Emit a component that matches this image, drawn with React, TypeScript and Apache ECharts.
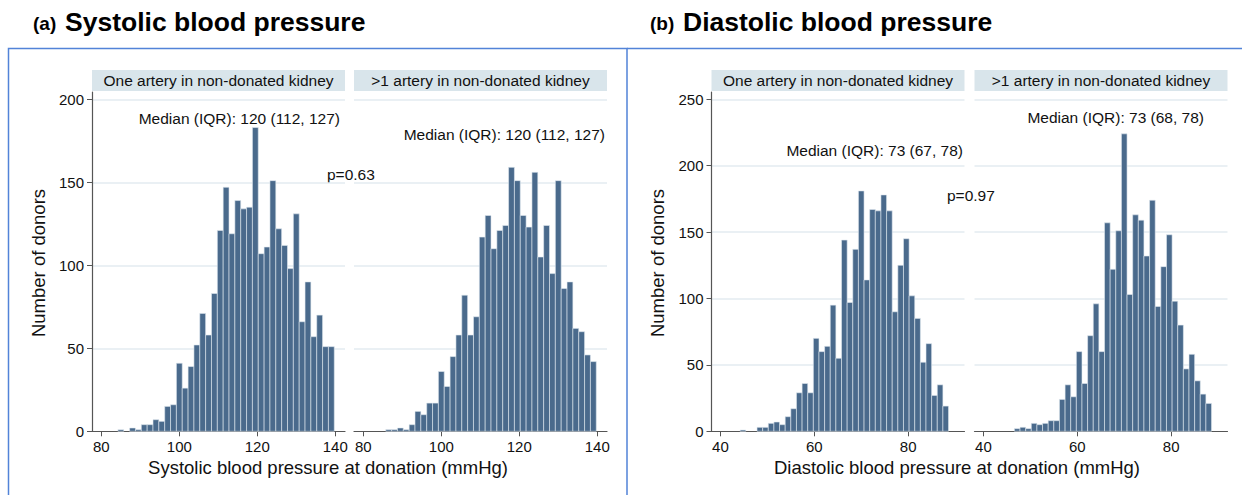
import React, { useEffect, useRef } from 'react';
import * as echarts from 'echarts';

// Histogram bin definitions
const sysBinStart = 84.25;
const sysBinWidth = 1.5;
const diaBinStart = 44.2;
const diaBinWidth = 1.2;

// Counts per bin (number of donors)
const sysOneArtery = [1, 0, 2, 1, 4, 4, 7, 6, 15, 16, 41, 26, 39, 52, 71, 58, 83, 121, 147, 119, 139, 134, 135, 183, 107, 111, 151, 122, 112, 98, 131, 66, 90, 57, 70, 51, 51];
const sysMultiArtery = [0, 1, 1, 2, 1, 4, 12, 10, 17, 17, 36, 27, 45, 58, 82, 58, 69, 117, 130, 110, 121, 124, 159, 151, 130, 123, 156, 105, 124, 95, 151, 86, 90, 62, 60, 46, 42];
const diaOneArtery = [1, 0, 0, 3, 3, 6, 7, 5, 11, 17, 29, 36, 29, 70, 60, 64, 95, 55, 144, 97, 137, 181, 114, 167, 166, 178, 166, 90, 125, 145, 102, 85, 52, 66, 27, 35, 19];
const diaMultiArtery = [0, 0, 2, 3, 2, 6, 5, 6, 8, 8, 24, 35, 26, 60, 36, 72, 96, 60, 157, 122, 151, 224, 103, 163, 159, 132, 174, 94, 124, 148, 98, 80, 47, 58, 38, 28, 21];

// Tick labels
const sysXTicks = [80, 100, 120, 140];
const diaXTicks = [40, 60, 80];
const sysYTicks = [0, 50, 100, 150, 200];
const diaYTicks = [0, 50, 100, 150, 200, 250];

// Texts
const stripLabels = ['One artery in non-donated kidney', '>1 artery in non-donated kidney'];
const medianLabels = [
  'Median (IQR): 120 (112, 127)',
  'Median (IQR): 120 (112, 127)',
  'Median (IQR): 73 (67, 78)',
  'Median (IQR): 73 (68, 78)',
];
const pValueLabels = ['p=0.63', 'p=0.97'];
const panelTags = ['(a)', '(b)'];
const panelTitles = ['Systolic blood pressure', 'Diastolic blood pressure'];
const xTitles = ['Systolic blood pressure at donation (mmHg)', 'Diastolic blood pressure at donation (mmHg)'];
const yTitle = 'Number of donors';

const FONT = '"Liberation Sans", Arial, Helvetica, sans-serif';
const BAR = '#4a6a8c';
const EDGE = 'rgba(225,233,240,0.85)';
const GRID = '#e3ebf0';
const AXIS = '#555555';
const STRIP = '#d9e5eb';
const FRAME = '#5283d8';

function toBins(start: number, width: number, counts: number[]) {
  return counts.map((c, i) => [start + i * width, start + (i + 1) * width, c]);
}

const App: React.FC = () => {
  const ref = useRef<HTMLDivElement>(null);

  useEffect(() => {
    if (!ref.current) return;
    const chart = echarts.init(ref.current, undefined, { renderer: 'svg' });

    const gridTop = 92;
    const gridH = 339.3;
    const panels = [
      { left: 92, width: 253, min: 77.6, max: 142.5, xt: sysXTicks, ymax: 204.4, yt: sysYTicks, showY: true, data: toBins(sysBinStart, sysBinWidth, sysOneArtery) },
      { left: 354, width: 253, min: 77.6, max: 142.5, xt: sysXTicks, ymax: 204.4, yt: sysYTicks, showY: false, data: toBins(sysBinStart, sysBinWidth, sysMultiArtery) },
      { left: 711.5, width: 253, min: 38.1, max: 92.0, xt: diaXTicks, ymax: 255.5, yt: diaYTicks, showY: true, data: toBins(diaBinStart, diaBinWidth, diaOneArtery) },
      { left: 974.5, width: 253, min: 38.1, max: 92.0, xt: diaXTicks, ymax: 255.5, yt: diaYTicks, showY: false, data: toBins(diaBinStart, diaBinWidth, diaMultiArtery) },
    ];

    const grid = panels.map((p) => ({ left: p.left, top: gridTop, width: p.width, height: gridH, containLabel: false }));
    const xAxis = panels.map((p, i) => ({
      type: 'value',
      gridIndex: i,
      min: p.min,
      max: p.max,
      axisLine: { show: true, lineStyle: { color: AXIS, width: 1.2 } },
      axisTick: { show: true, length: 5, customValues: p.xt, lineStyle: { color: AXIS } },
      axisLabel: { show: true, customValues: p.xt, fontSize: 15, color: '#111', fontFamily: FONT, margin: 8 },
      splitLine: { show: false },
    }));
    const yAxis = panels.map((p, i) => ({
      type: 'value',
      gridIndex: i,
      min: 0,
      max: p.ymax,
      interval: 50,
      axisLine: { show: p.showY, lineStyle: { color: AXIS, width: 1.2 } },
      axisTick: { show: p.showY, length: 5, customValues: p.yt, lineStyle: { color: AXIS } },
      axisLabel: { show: p.showY, customValues: p.yt, fontSize: 15, color: '#111', fontFamily: FONT, margin: 8 },
      splitLine: { show: true, showMinLine: false, lineStyle: { color: GRID, width: 1.5 } },
    }));

    const series = panels.map((p, i) => ({
      type: 'custom',
      xAxisIndex: i,
      yAxisIndex: i,
      encode: { x: [0, 1], y: 2 },
      renderItem: (params: any, api: any) => {
        const x0 = api.value(0);
        const x1 = api.value(1);
        const v = api.value(2);
        if (!v) return null;
        const a = api.coord([x0, v]);
        const b = api.coord([x1, 0]);
        return {
          type: 'rect',
          shape: { x: a[0], y: a[1], width: b[0] - a[0], height: b[1] - a[1] },
          style: { fill: BAR, stroke: EDGE, lineWidth: 0.7 },
        };
      },
      data: p.data,
    }));

    const txt = (x: number, y: number, text: string, size: number, align: string, opts: any = {}) => ({
      type: 'text',
      x,
      y,
      silent: true,
      ...opts,
      style: { text, fontSize: size, fontFamily: FONT, fill: '#111', align, verticalAlign: 'middle', ...(opts.style || {}) },
    });

    const graphic: any[] = [];
    // frames
    graphic.push({ type: 'polyline', silent: true, shape: { points: [[8.5, 495], [8.5, 48.5], [627, 48.5], [627, 495]] }, style: { stroke: FRAME, lineWidth: 1.5, fill: 'none' } });
    graphic.push({ type: 'line', silent: true, shape: { x1: 627, y1: 48.5, x2: 1242, y2: 48.5 }, style: { stroke: FRAME, lineWidth: 1.5 } });
    // titles
    graphic.push(txt(33, 23, panelTags[0], 19, 'left', { style: { fontWeight: 'bold', fill: '#000' } }));
    graphic.push(txt(65, 22, panelTitles[0], 26.5, 'left', { style: { fontWeight: 'bold', fill: '#000' } }));
    graphic.push(txt(650, 23, panelTags[1], 19, 'left', { style: { fontWeight: 'bold', fill: '#000' } }));
    graphic.push(txt(683, 22, panelTitles[1], 26.5, 'left', { style: { fontWeight: 'bold', fill: '#000' } }));
    // strips
    panels.forEach((p, i) => {
      graphic.push({ type: 'rect', silent: true, shape: { x: p.left, y: 70, width: p.width, height: 21 }, style: { fill: STRIP } });
      graphic.push(txt(p.left + p.width / 2, 80.5, stripLabels[i % 2], 15.5, 'center'));
    });
    // medians
    graphic.push(txt(340, 118, medianLabels[0], 15.5, 'right'));
    graphic.push(txt(605, 134.5, medianLabels[1], 15.5, 'right'));
    graphic.push(txt(963, 150, medianLabels[2], 15.5, 'right'));
    graphic.push(txt(1204, 117.5, medianLabels[3], 15.5, 'right'));
    // p-values
    graphic.push(txt(327, 174, pValueLabels[0], 15.5, 'left'));
    graphic.push(txt(947, 195, pValueLabels[1], 15.5, 'left'));
    // axis titles
    graphic.push(txt(328, 467, xTitles[0], 18.5, 'center'));
    graphic.push(txt(957, 467, xTitles[1], 18.5, 'center'));
    graphic.push(txt(38, 263, yTitle, 18.5, 'center', { rotation: Math.PI / 2 }));
    graphic.push(txt(657, 263, yTitle, 18.5, 'center', { rotation: Math.PI / 2 }));

    chart.setOption({
      animation: false,
      backgroundColor: '#ffffff',
      textStyle: { fontFamily: FONT },
      grid,
      xAxis,
      yAxis,
      series,
      graphic,
    } as any);

    return () => chart.dispose();
  }, []);

  return <div ref={ref} style={{ position: 'absolute', left: 0, top: 0, width: 1242, height: 495 }} />;
};

export default App;
